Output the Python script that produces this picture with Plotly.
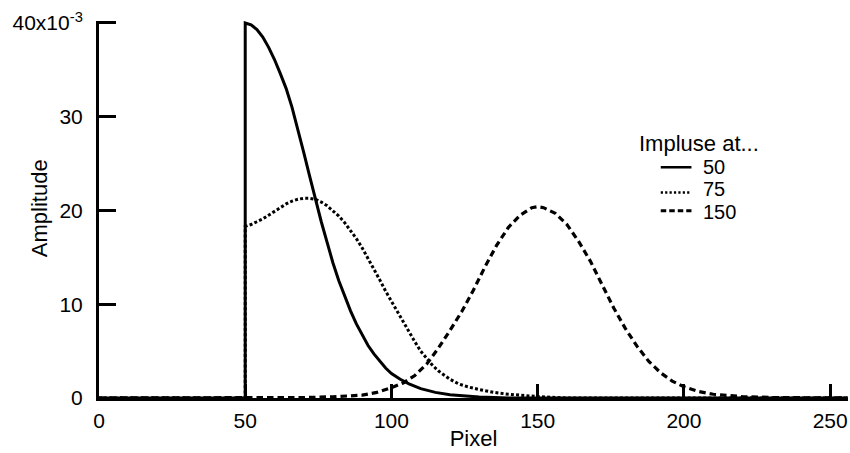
import plotly.graph_objects as go

# Pixel positions (x) and amplitudes (in units of 1e-3)
x_50 = [0, 50, 50, 52, 54, 56, 58, 60, 62, 64, 66, 68, 70, 72, 74, 76, 78, 80, 82, 84,
        86, 88, 90, 92, 94, 96, 98, 100, 103, 106, 110, 115, 120, 130, 140, 256]
y_50 = [0, 0, 40.0, 39.8, 39.3, 38.5, 37.4, 36.1, 34.6, 33.0, 31.0, 28.7, 26.2, 23.7,
        21.2, 18.8, 16.6, 14.4, 12.5, 10.8, 9.3, 7.9, 6.7, 5.6, 4.7, 3.9, 3.2, 2.6,
        2.0, 1.5, 1.0, 0.6, 0.35, 0.1, 0.0, 0.0]

x_75 = [0, 50, 50, 52, 54, 56, 58, 60, 62, 64, 66, 68, 70, 72, 74, 76, 78, 80, 82, 84,
        86, 88, 90, 92, 94, 96, 98, 100, 102, 104, 106, 108, 110, 112, 114, 116, 118,
        120, 123, 126, 130, 135, 140, 150, 160, 256]
y_75 = [0, 0, 18.3, 18.5, 18.8, 19.1, 19.5, 19.9, 20.3, 20.7, 21.0, 21.2, 21.3, 21.3,
        21.2, 20.9, 20.5, 20.0, 19.4, 18.7, 17.9, 17.0, 16.0, 14.9, 13.8, 12.6, 11.4,
        10.3, 9.2, 8.1, 7.0, 6.0, 5.0, 4.2, 3.5, 2.9, 2.4, 2.0, 1.5, 1.2, 0.9, 0.6,
        0.4, 0.15, 0.0, 0.0]

x_150 = [0, 50, 60, 70, 80, 90, 95, 100, 104, 108, 112, 116, 120, 124, 128, 132, 136,
         140, 144, 148, 150, 152, 156, 160, 164, 168, 172, 176, 180, 184, 188, 192,
         196, 200, 205, 210, 220, 230, 256]
y_150 = [0, 0, 0.0, 0.05, 0.13, 0.3, 0.6, 1.1, 1.6, 2.4, 3.6, 5.3, 7.2, 9.2, 11.5,
         14.0, 16.3, 18.2, 19.5, 20.3, 20.4, 20.3, 19.7, 18.5, 16.7, 14.6, 12.1, 9.6,
         7.4, 5.5, 3.9, 2.7, 1.8, 1.2, 0.7, 0.4, 0.15, 0.05, 0.0]

series_names = ["50", "75", "150"]
legend_title = "Impluse at..."
x_ticks = [0, 50, 100, 150, 200, 250]
y_ticks = [0, 10, 20, 30, 40]
y_tick_text = ["0", "10", "20", "30", "40x10<sup>-3</sup>"]

FONT = "Liberation Sans, Arial, Helvetica, sans-serif"
TICK_SIZE = 21
LABEL_SIZE = 22
LEGEND_SIZE = 20

line_styles = [
    dict(color="black", width=3),
    dict(color="black", width=3, dash="3px,2.2px"),
    dict(color="black", width=3.2, dash="6.5px,4px"),
]
legend_styles = [
    dict(color="black", width=2.5),
    dict(color="black", width=2.6, dash="2.2px,2.2px"),
    dict(color="black", width=3, dash="5.5px,3px"),
]

fig = go.Figure()
for xs, ys, name, st in zip([x_50, x_75, x_150], [y_50, y_75, y_150],
                            series_names, line_styles):
    fig.add_trace(go.Scatter(x=xs, y=[v / 1000 for v in ys], mode="lines",
                             name=name, line=st, showlegend=False))

# Hand-drawn legend (title, key lines, labels) in paper coordinates
legend_rows_y = [0.612, 0.545, 0.497]
legend_label_y = [0.6127, 0.5531, 0.4934]
fig.add_annotation(text=legend_title, xref="paper", yref="paper",
                   x=0.7196, y=0.676, xanchor="left", yanchor="middle",
                   showarrow=False, borderpad=0,
                   font=dict(family=FONT, size=LABEL_SIZE, color="black"))
for name, st, ly, ty in zip(series_names, legend_styles, legend_rows_y, legend_label_y):
    fig.add_shape(type="line", xref="paper", yref="paper",
                  x0=0.750, x1=0.791, y0=ly, y1=ly, line=st)
    fig.add_annotation(text=name, xref="paper", yref="paper",
                       x=0.805, y=ty, xanchor="left", yanchor="middle",
                       showarrow=False, borderpad=0,
                       font=dict(family=FONT, size=LEGEND_SIZE, color="black"))

# y-axis title placed as text next to the tick labels
fig.add_annotation(text="Amplitude", xref="paper", yref="paper",
                   x=-0.079, y=0.503, xanchor="center", yanchor="middle",
                   textangle=-90, showarrow=False,
                   font=dict(family=FONT, size=LABEL_SIZE, color="black"))

fig.update_layout(
    width=850, height=453,
    margin=dict(l=99, r=2, t=21, b=55),
    paper_bgcolor="white", plot_bgcolor="white",
    font=dict(family=FONT, size=TICK_SIZE, color="black"),
    showlegend=False,
)

fig.update_xaxes(
    range=[0, 256.1],
    tickvals=x_ticks, ticktext=[str(t) for t in x_ticks],
    ticks="inside", ticklen=14, tickwidth=2.5, tickcolor="black",
    showline=True, linecolor="black", linewidth=3,
    showgrid=False, zeroline=False,
    ticklabelstandoff=2,
    tickfont=dict(family=FONT, size=TICK_SIZE),
    title=dict(text="Pixel", standoff=0, font=dict(family=FONT, size=LABEL_SIZE)),
)
fig.update_yaxes(
    range=[0, 0.04021],
    tickvals=[t / 1000 for t in y_ticks], ticktext=y_tick_text,
    ticks="inside", ticklen=17, tickwidth=2.5, tickcolor="black",
    showline=True, linecolor="black", linewidth=3,
    showgrid=False, zeroline=False,
    ticklabelstandoff=9,
    tickfont=dict(family=FONT, size=TICK_SIZE),
)

fig.write_html("out.html")
